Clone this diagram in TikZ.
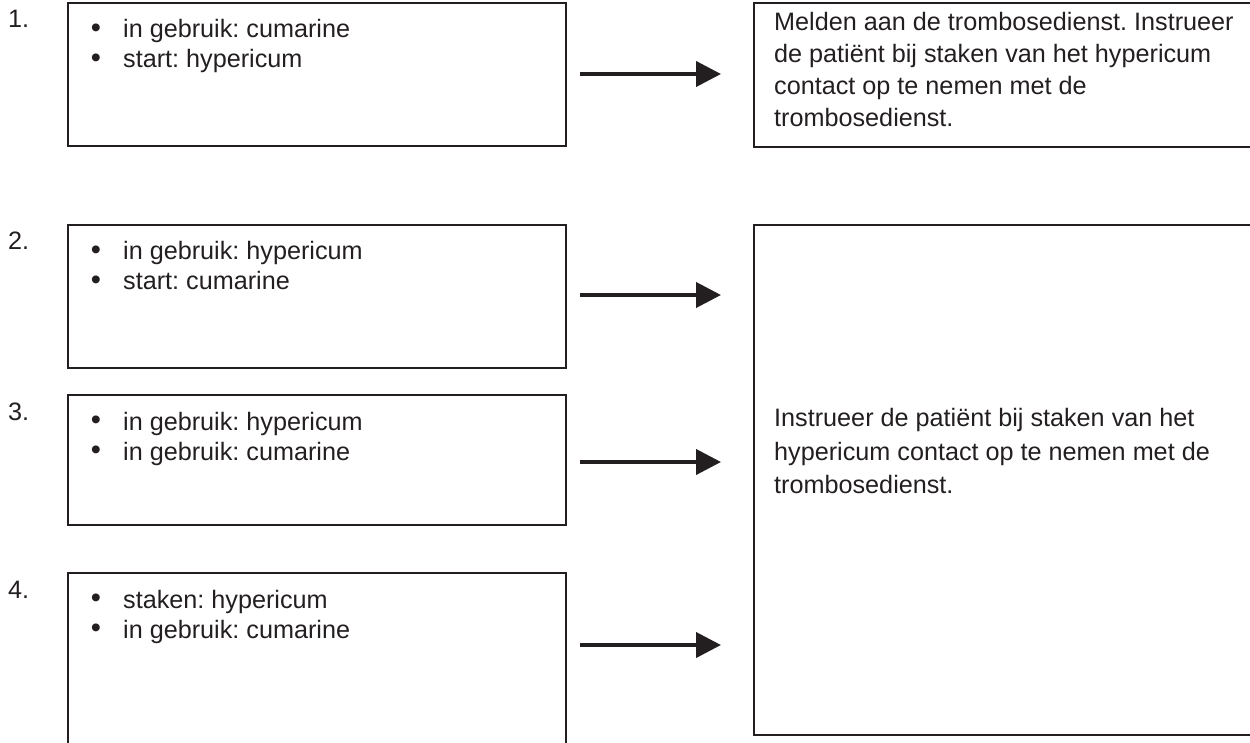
\documentclass[tikz,border=0pt]{standalone}
\usepackage{fontspec}
\setmainfont{Liberation Sans}
\usetikzlibrary{arrows.meta}
\definecolor{ink}{HTML}{231F20}
\frenchspacing
\tikzset{
  box/.style={draw=ink, line width=1.6pt, rectangle, inner sep=0pt, outer sep=0pt, anchor=north west},
  txt/.style={anchor=base west, inner sep=0pt, text=ink, font=\fontsize{25.2}{30}\selectfont},
  dot/.style={anchor=center, inner sep=0pt, text=ink, font=\fontsize{29}{30}\selectfont},
  arr/.style={draw=ink, line width=4pt, -{Triangle[length=25pt,width=25pt]}, shorten <=14pt, shorten >=33pt}
}
\begin{document}
\begin{tikzpicture}[x=1pt,y=-1pt]
\useasboundingbox (0,0) rectangle (1250,743);
\clip (0,0) rectangle (1250,743);
% left boxes
\node[box, minimum width=498pt, minimum height=143pt] (b1) at (68,3) {};
\node[box, minimum width=498pt, minimum height=143pt] (b2) at (68,225) {};
\node[box, minimum width=498pt, minimum height=130pt] (b3) at (68,395) {};
\node[box, minimum width=498pt, minimum height=190pt] (b4) at (68,573) {};
% right boxes
\node[box, minimum width=510pt, minimum height=144pt] (r1) at (754,3) {};
\node[box, minimum width=510pt, minimum height=510pt] (r2) at (754,225) {};
% numbers
\node[txt] (n1) at (8,28) {1.};
\node[txt] (n2) at (8,250) {2.};
\node[txt] (n3) at (8,420) {3.};
\node[txt] (n4) at (8,598) {4.};
% bullets and items
\node[dot] (p1a) at (96,31) {\textbullet};
\node[txt] (t1a) at (123,38) {in gebruik: cumarine};
\node[dot] (p1b) at (96,61) {\textbullet};
\node[txt] (t1b) at (123,68) {start: hypericum};
\node[dot] (p2a) at (96,253) {\textbullet};
\node[txt] (t2a) at (123,260) {in gebruik: hypericum};
\node[dot] (p2b) at (96,283) {\textbullet};
\node[txt] (t2b) at (123,290) {start: cumarine};
\node[dot] (p3a) at (96,423) {\textbullet};
\node[txt] (t3a) at (123,430) {in gebruik: hypericum};
\node[dot] (p3b) at (96,453) {\textbullet};
\node[txt] (t3b) at (123,460) {in gebruik: cumarine};
\node[dot] (p4a) at (96,601) {\textbullet};
\node[txt] (t4a) at (123,608) {staken: hypericum};
\node[dot] (p4b) at (96,631) {\textbullet};
\node[txt] (t4b) at (123,638) {in gebruik: cumarine};
% right texts
\node[txt] (s1) at (774,31) {Melden aan de trombosedienst. Instrueer};
\node[txt] (s2) at (774,63) {de patiënt bij staken van het hypericum};
\node[txt] (s3) at (774,95) {contact op te nemen met de};
\node[txt] (s4) at (774,127) {trombosedienst.};
\node[txt] (u1) at (774,426) {Instrueer de patiënt bij staken van het};
\node[txt] (u2) at (774,460) {hypericum contact op te nemen met de};
\node[txt] (u3) at (774,493) {trombosedienst.};
% arrows
\draw[arr] (b1.east |- 0,74) -- (r1.west |- 0,74);
\draw[arr] (b2.east |- 0,295) -- (r2.west |- 0,295);
\draw[arr] (b3.east |- 0,462) -- (r2.west |- 0,462);
\draw[arr] (b4.east |- 0,645) -- (r2.west |- 0,645);
\end{tikzpicture}
\end{document}
